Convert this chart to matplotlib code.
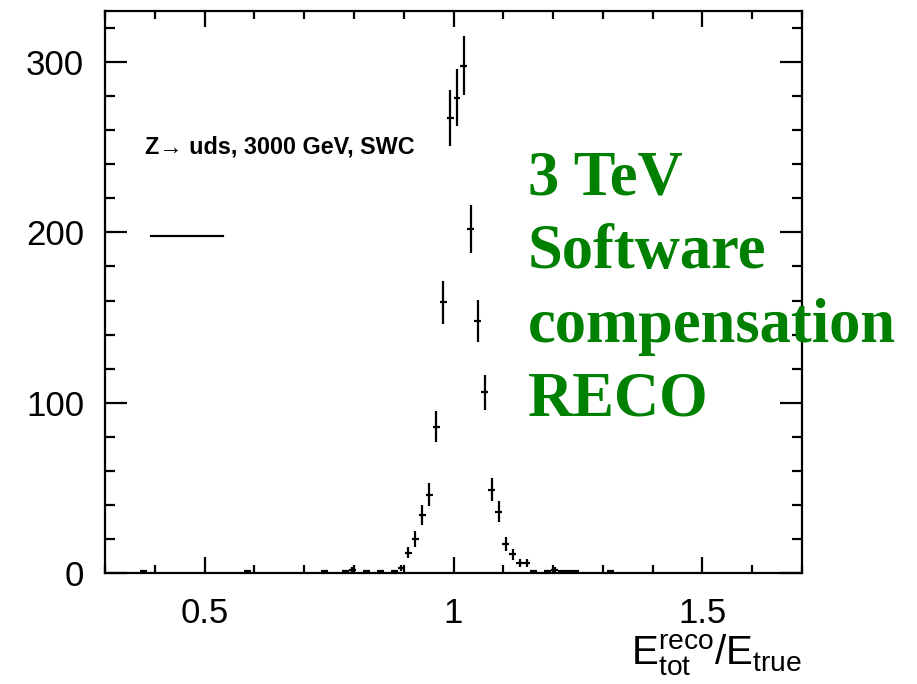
import numpy as np
import matplotlib
matplotlib.use('Agg')
import matplotlib.pyplot as plt
from matplotlib.lines import Line2D
from matplotlib.ticker import MultipleLocator

plt.rcParams['font.family'] = ['Liberation Sans', 'DejaVu Sans']
plt.rcParams['mathtext.fontset'] = 'custom'
plt.rcParams['mathtext.rm'] = 'Liberation Sans'

# histogram of E_tot^reco / E_true : 100 bins between 0.3 and 1.7
x_min, x_max, n_bins = 0.3, 1.7, 100
counts = [
    0, 0, 0, 0, 0, 1, 0, 0, 0, 0,
    0, 0, 0, 0, 0, 0, 0, 0, 0, 0,
    1, 0, 0, 0, 0, 0, 0, 0, 0, 0,
    0, 1, 0, 0, 1, 2, 0, 1, 0, 1,
    0, 1, 3, 12, 20, 34, 46, 86, 159, 267,
    279, 298, 202, 148, 106, 49, 36, 17, 11, 6,
    6, 1, 0, 1, 2, 1, 1, 1, 0, 0,
    0, 0, 1, 0, 0, 0, 0, 0, 0, 0,
    0, 0, 0, 0, 0, 0, 0, 0, 0, 0,
    0, 0, 0, 0, 0, 0, 0, 0, 0, 0,
]
legend_header = 'Z\u2192 uds, 3000 GeV, SWC'
note_lines = ['3 TeV', 'Software', 'compensation', 'RECO']
x_title = r'$\mathregular{E_{tot}^{reco}/E_{true}}$'

edges = np.linspace(x_min, x_max, n_bins + 1)
centers = 0.5 * (edges[1:] + edges[:-1])
half_width = 0.5 * (edges[1] - edges[0])
n = np.array(counts, dtype=float)
filled = n > 0

fig = plt.figure(figsize=(9.17, 6.84), dpi=100)
ax = fig.add_axes([0.1145, 0.1623, 0.7601, 0.8216])

ax.errorbar(centers[filled], n[filled], xerr=half_width, yerr=np.sqrt(n[filled]),
            fmt='none', ecolor='black', elinewidth=1.6, capsize=0)

ax.set_xlim(x_min, x_max)
ax.set_ylim(0, 330)
ax.xaxis.set_major_locator(MultipleLocator(0.5))
ax.xaxis.set_minor_locator(MultipleLocator(0.1))
ax.yaxis.set_major_locator(MultipleLocator(100))
ax.yaxis.set_minor_locator(MultipleLocator(20))
ax.xaxis.set_major_formatter(plt.FuncFormatter(lambda v, p: f'{v:g}'))

for s in ax.spines.values():
    s.set_linewidth(1.6)
ax.tick_params(which='both', direction='in', top=True, right=True, width=1.6)
ax.tick_params(axis='y', which='major', length=15.5, labelsize=25, pad=15)
ax.tick_params(axis='y', which='minor', length=7.5)
ax.tick_params(axis='x', which='major', length=11.5, labelsize=25, pad=17)
ax.tick_params(axis='x', which='minor', length=6)

ax.text(1.0, -0.105, x_title, transform=ax.transAxes, ha='right', va='top',
        fontsize=29)

# legend: header and line sample
ax.text(0.0574, 0.758, legend_header, transform=ax.transAxes, ha='left',
        va='center', fontsize=16.8, fontweight='bold')
ax.add_line(Line2D([0.066, 0.169], [0.6, 0.6], transform=ax.transAxes,
                   color='black', lw=1.6))

# green label drawn over the frame
ax.text(0.607, 0.752, '\n'.join(note_lines), transform=ax.transAxes,
        ha='left', va='top', fontsize=45, fontweight='bold',
        family=['Liberation Serif', 'DejaVu Serif'], color='#008000',
        linespacing=1.36, clip_on=False, zorder=5)

fig.savefig('out.png', dpi=100)
